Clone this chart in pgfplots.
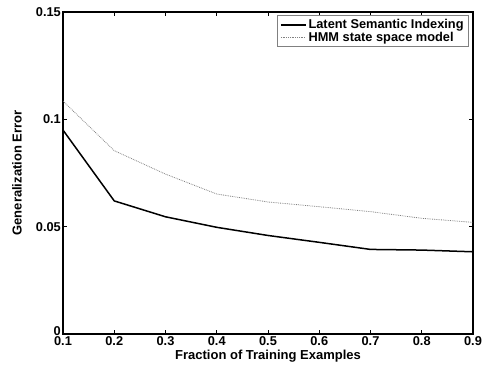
\documentclass[border=0pt]{standalone}
\usepackage{pgfplots}
\pgfplotsset{compat=1.18}
\usepackage{fontspec}
\setmainfont{Liberation Sans}
\begin{document}
\begin{tikzpicture}
\begin{axis}[
  scale only axis,
  width=410pt, height=322pt,
  xmin=0.1, xmax=0.9, ymin=0, ymax=0.15,
  xtick={0.1,0.2,...,0.9},
  ytick={0.05,0.1,0.15},
  xticklabels={0.1,0.2,0.3,0.4,0.5,0.6,0.7,0.8,0.9},
  yticklabels={0.05,0.1,0.15},
  extra y ticks={0},
  extra y tick labels={0},
  extra y tick style={yticklabel style={yshift=2.5pt}},
  tick align=inside,
  major tick length=4pt,
  tick style={black, line width=0.9pt},
  axis line style={line width=1.2pt},
  ticklabel style={font=\fontsize{12.8}{13}\selectfont\bfseries},
  xticklabel style={yshift=-1.5pt, inner sep=1pt},
  yticklabel style={xshift=-1pt, inner sep=1pt},
  xlabel={Fraction of Training Examples},
  ylabel={Generalization Error},
  label style={font=\fontsize{13}{15}\selectfont\bfseries},
  xlabel style={at={(axis description cs:0.5,-0.07)}, anchor=center},
  ylabel style={at={(axis description cs:-0.112,0.5)}, anchor=center, rotate=0},
  legend style={at={(0.99,0.99)}, anchor=north east, draw=gray, line width=0.6pt,
    font=\fontsize{12.8}{14}\selectfont\bfseries, inner xsep=3pt, inner ysep=2pt, row sep=-2.5pt,
    legend cell align=left},
  legend image code/.code={\draw[#1] (0pt,0pt) -- (25pt,0pt);},
]
\addplot[black, line width=1.5pt] coordinates {
 (0.1,0.0950) (0.2,0.0620) (0.3,0.0546) (0.4,0.0497) (0.5,0.0459)
 (0.6,0.0427) (0.7,0.0394) (0.8,0.0391) (0.9,0.0383)};
\addlegendentry{Latent Semantic Indexing}
\addplot[gray, line width=0.8pt, densely dotted] coordinates {
 (0.1,0.1085) (0.2,0.0854) (0.3,0.0745) (0.4,0.0652) (0.5,0.0615)
 (0.6,0.0593) (0.7,0.0570) (0.8,0.0539) (0.9,0.0520)};
\addlegendentry{HMM state space model}
\end{axis}
\path (current axis.south west) ++(-63pt,-36pt) coordinate (bl);
\path (current axis.north east) ++(10pt,12pt) coordinate (tr);
\useasboundingbox (bl) rectangle (tr);
\end{tikzpicture}
\end{document}
